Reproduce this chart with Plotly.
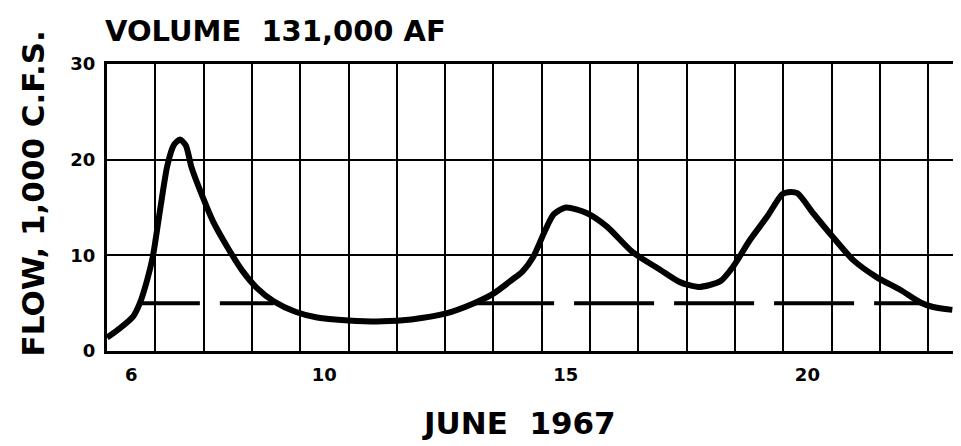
import plotly.graph_objects as go

# Daily hydrograph, June 1967 (day of month, flow in 1,000 cfs)
days = [5.5, 5.77, 6.04, 6.18, 6.33, 6.45, 6.6, 6.75, 6.88, 7.01, 7.13, 7.25, 7.45,
        7.7, 8.0, 8.3, 8.6, 8.95, 9.4, 9.85, 10.5, 11.2, 11.8, 12.5, 13.1, 13.5, 13.9,
        14.1, 14.32, 14.57, 14.75, 15.0, 15.44, 15.85, 16.39, 16.95, 17.36, 17.75, 18.2,
        18.46, 18.81, 19.16, 19.48, 19.6, 19.79, 20.12, 20.53, 20.95, 21.44, 21.92, 22.33,
        22.6, 23.0]
flow = [1.4, 2.4, 3.6, 5.0, 7.4, 9.9, 14.8, 19.4, 21.5, 22.1, 21.5, 19.2, 16.5,
        13.5, 10.8, 8.4, 6.6, 5.2, 4.1, 3.5, 3.2, 3.1, 3.3, 3.9, 5.0, 6.0, 7.5,
        8.3, 9.8, 12.6, 14.3, 15.0, 14.4, 13.0, 10.3, 8.5, 7.2, 6.7, 7.3,
        8.8, 11.6, 14.0, 16.4, 16.6, 16.5, 14.4, 11.9, 9.5, 7.7, 6.4, 5.1,
        4.6, 4.3]

base_flow = 5
base_seg1 = [6.18, 8.95]
base_seg2 = [13.1, 22.35]

tick_days = [6, 10, 15, 20]
tick_text = ["6", "10", "15", "20"]
y_ticks = [0, 10, 20, 30]

FONT = "DejaVu Sans"

fig = go.Figure()
fig.add_trace(go.Scatter(x=base_seg1, y=[base_flow] * 2, mode="lines",
                         line=dict(color="black", width=4, dash="60px,20px"),
                         hoverinfo="skip"))
fig.add_trace(go.Scatter(x=base_seg2, y=[base_flow] * 2, mode="lines",
                         line=dict(color="black", width=4, dash="80px,20px"),
                         hoverinfo="skip"))
fig.add_trace(go.Scatter(x=days, y=flow, mode="lines",
                         line=dict(color="black", width=6, shape="spline", smoothing=0.7)))

fig.update_layout(
    width=953, height=438,
    margin=dict(l=99, r=0, t=56, b=95),
    paper_bgcolor="white", plot_bgcolor="white",
    showlegend=False,
    font=dict(family=FONT, color="black", size=18, weight="bold"),
    xaxis=dict(range=[5.5, 23.18], tickmode="array", tickvals=tick_days, ticktext=tick_text,
               showgrid=False, zeroline=False, showline=True, linecolor="black", linewidth=3,
               mirror=True, ticks="", ticklabelstandoff=5,
               tickfont=dict(family=FONT, size=18, weight="bold"),
               minor=dict(tickmode="linear", tick0=6.5, dtick=1, showgrid=True,
                          gridcolor="black", gridwidth=2, ticks="")),
    yaxis=dict(range=[0, 30], tickmode="array", tickvals=y_ticks,
               showgrid=True, gridcolor="black", gridwidth=2, zeroline=False,
               showline=True, linecolor="black", linewidth=3, ticks="",
               ticklabelstandoff=5,
               tickfont=dict(family=FONT, size=18, weight="bold")),
    annotations=[
        dict(text="VOLUME  131,000 AF", xref="paper", yref="paper", x=-0.005, y=1.0,
             xanchor="left", yanchor="bottom", yshift=14, showarrow=False,
             font=dict(family=FONT, size=29, weight="bold")),
        dict(text="FLOW, 1,000 C.F.S.", xref="paper", yref="paper", x=0, xshift=-74,
             y=0.549, textangle=-90, xanchor="center", yanchor="middle", showarrow=False,
             font=dict(family=FONT, size=31, weight="bold")),
        dict(text="JUNE  1967", xref="paper", yref="paper", x=0.483, y=0, yshift=-52,
             xanchor="center", yanchor="top", showarrow=False,
             font=dict(family=FONT, size=31, weight="bold")),
    ],
)

fig.write_html("out.html")
